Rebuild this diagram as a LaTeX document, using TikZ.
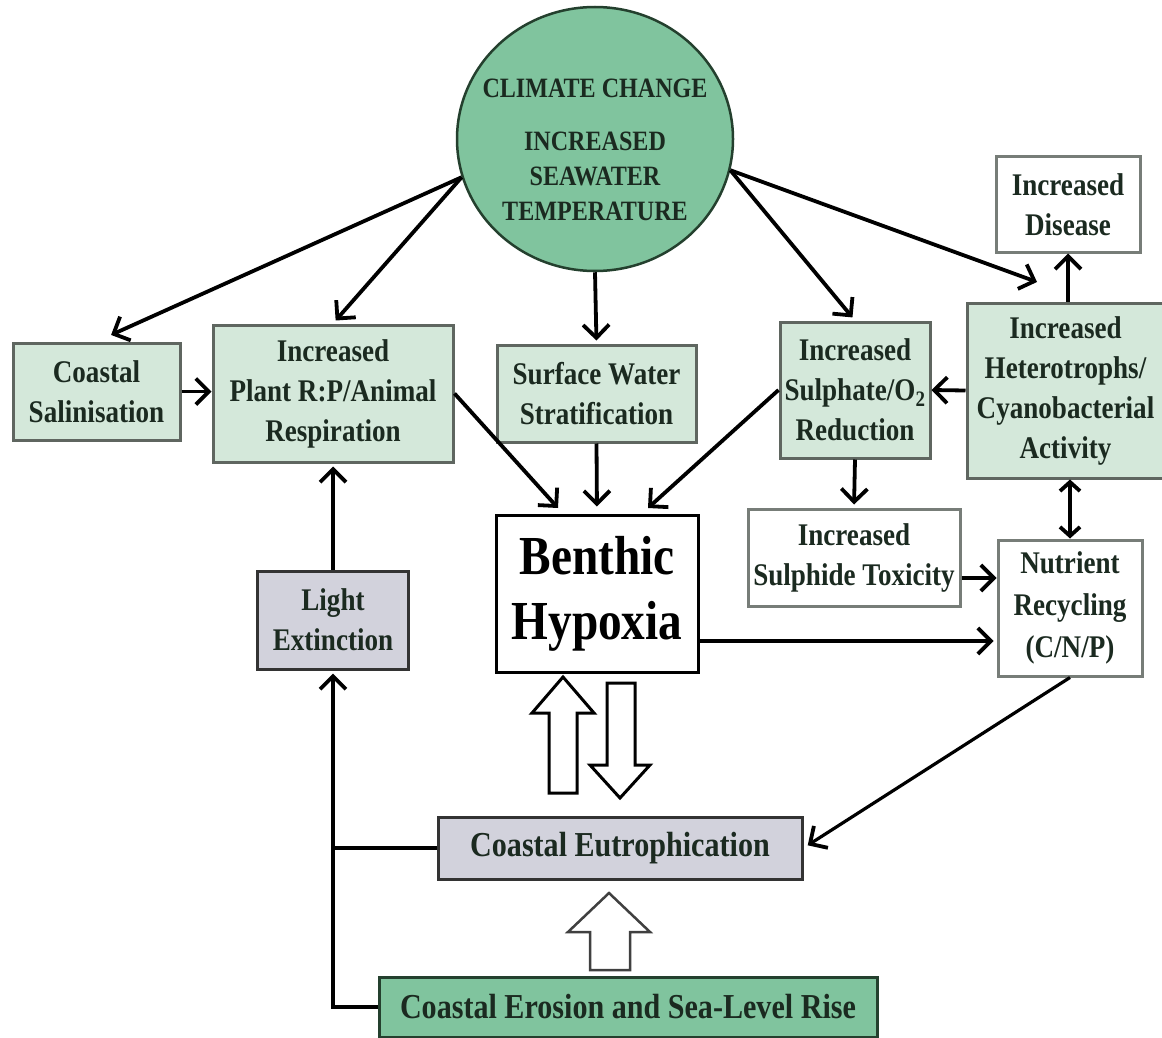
\documentclass[tikz,border=0pt]{standalone}
\usepackage{fontspec}
\setmainfont{Liberation Serif}[FakeStretch=0.86]
\usetikzlibrary{arrows.meta,shapes.geometric,calc}
\definecolor{circg}{HTML}{80C49E}
\definecolor{lightg}{HTML}{D4E8DA}
\definecolor{greyb}{HTML}{D2D2DC}
\definecolor{txt}{HTML}{1B2A20}
\definecolor{bord}{HTML}{5F6660}
\definecolor{darkg}{HTML}{24402E}
\begin{document}
\begin{tikzpicture}[x=1pt,y=-1pt,
  every node/.style={font=\bfseries\fontsize{31.5}{40}\selectfont, text=txt, align=center, inner sep=0pt},
  gbox/.style={draw=bord, line width=3pt, fill=lightg},
  wbox/.style={draw=bord!85, line width=3pt, fill=white},
  ybox/.style={draw=black!80, line width=3pt, fill=greyb},
  arr/.style={line width=3.8pt, -{Straight Barb[length=13pt,width=26pt,line width=3.8pt]}},
  darr/.style={line width=3.8pt, {Straight Barb[length=9pt,width=20pt,line width=3.8pt]}-{Straight Barb[length=9pt,width=20pt,line width=3.8pt]}},
  plainline/.style={line width=4pt},
  hollow/.style={draw=black, line width=3pt, fill=white, line join=miter}
]
\useasboundingbox (0,0) rectangle (1162,1038);
\fill[white] (0,0) rectangle (1162,1038);

% climate circle
\node[ellipse, draw=darkg, fill=circg, line width=2.5pt, minimum width=276pt, minimum height=264pt] (clim) at (595,139) {};
\node[font=\bfseries\fontsize{28}{35}\selectfont] (climtxt) at (595,150) {CLIMATE CHANGE\\[18pt]INCREASED\\SEAWATER\\TEMPERATURE};

% boxes
\node[gbox, minimum width=167pt, minimum height=97pt] (sal) at (96.5,391.5) {Coastal\\Salinisation};
\node[gbox, minimum width=240pt, minimum height=137pt] (plant) at (333,393.5) {Increased\\Plant R:P/Animal\\Respiration};
\node[gbox, minimum width=199pt, minimum height=97pt] (surf) at (596.5,393.5) {Surface Water\\Stratification};
\node[gbox, minimum width=150pt, minimum height=136pt] (sulph) at (855,390) {Increased\\Sulphate/O\textsubscript{2}\\Reduction};
\node[gbox, minimum width=197pt, minimum height=175pt] (het) at (1065.5,390.5) {Increased\\Heterotrophs/\\Cyanobacterial\\Activity};
\node[wbox, minimum width=144pt, minimum height=95pt] (dis) at (1068,204.5) {Increased\\Disease};
\node[draw=black, line width=3pt, fill=white, minimum width=202pt, minimum height=157pt, font=\bfseries\fontsize{55}{65}\selectfont, text=black] (benth) at (597,593.5) {Benthic\\Hypoxia};
\node[ybox, minimum width=151pt, minimum height=98pt] (light) at (333,620) {Light\\Extinction};
\node[wbox, minimum width=212pt, minimum height=97pt] (tox) at (854,557.5) {Increased\\Sulphide Toxicity};
\node[wbox, minimum width=144pt, minimum height=136pt, font=\bfseries\fontsize{31.5}{42}\selectfont] (nut) at (1070,608) {Nutrient\\Recycling\\(C/N/P)};
\node[ybox, minimum width=364pt, minimum height=62pt, font=\bfseries\fontsize{35}{40}\selectfont] (eut) at (620,848) {Coastal Eutrophication};
\node[draw=darkg, line width=3pt, fill=circg, minimum width=498pt, minimum height=60pt, font=\bfseries\fontsize{35}{40}\selectfont] (ero) at (628,1007) {Coastal Erosion and Sea-Level Rise};

% helper coordinates
\coordinate (hettip) at (1037,282);
\coordinate (bt1) at (558,508);
\coordinate (bt3) at (648,508);
\coordinate (ytox) at (0,578);
\coordinate (ybn) at (0,641);

% arrows from climate change
\draw[arr, shorten >=16pt] (clim.196) -- (sal.north);
\draw[arr, shorten >=4pt] (clim.196) -- (plant.north);
\draw[arr, shorten >=3pt] (clim.south) -- (surf.north);
\draw[arr, shorten >=4pt] (clim.347) -- (sulph.north);
\draw[arr] (clim.347) -- (hettip);

% right side
\draw[arr] (dis.south |- het.north) -- (dis.south);
\draw[arr] (het.west) -- (sulph.east);
\draw[arr, shorten >=3pt] (sulph.south) -- (tox.north);
\draw[darr] (nut.north |- het.south) -- (nut.north);
\draw[arr] (tox.east |- ytox) -- (nut.west |- ytox);
\draw[arr, line width=4.5pt, shorten >=3pt] (benth.east |- ybn) -- (nut.west |- ybn);
\draw[arr, line width=3.2pt, shorten >=5pt] (nut.south) -- (eut.east);

% into benthic hypoxia
\draw[arr] (plant.east) -- (bt1);
\draw[arr, shorten >=7pt] (surf.south) -- (benth.north);
\draw[arr] (sulph.west) -- (bt3);

% left side
\draw[arr] (sal.east) -- (sal.east -| plant.west);
\draw[arr, shorten >=3pt] (light.north) -- (plant.south);
\draw[arr, line width=4pt, shorten >=3pt] (ero.west) -| (light.south);
\draw[plainline] (eut.west) -- (eut.west -| light.south);

% hollow block arrows
\draw[hollow] (549,793) -- (549,713) -- (532,713) -- (563,677) -- (594,713) -- (577,713) -- (577,793) -- cycle;
\draw[hollow] (607,683) -- (635,683) -- (635,765) -- (650,765) -- (620,798) -- (590,765) -- (607,765) -- cycle;
\draw[hollow, draw=black!75, line width=2.5pt] (590,970) -- (590,932) -- (568,932) -- (609,893) -- (650,932) -- (630,932) -- (630,970) -- cycle;
\end{tikzpicture}
\end{document}
